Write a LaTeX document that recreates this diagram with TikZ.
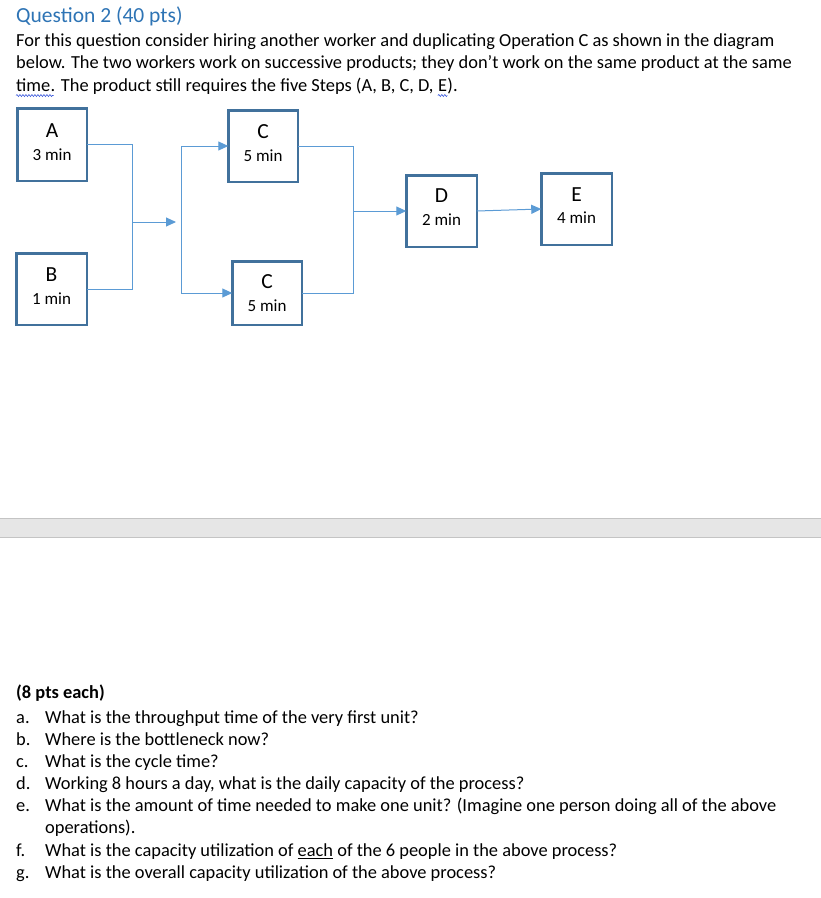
\documentclass[tikz,border=0pt]{standalone}
\usepackage{fontspec}
\setmainfont{Carlito}
\usetikzlibrary{arrows.meta,decorations.pathmorphing}
\definecolor{boxblue}{RGB}{65,113,156}
\definecolor{lineblue}{RGB}{91,155,213}
\definecolor{titleblue}{RGB}{46,116,181}
\definecolor{barfill}{RGB}{230,230,230}
\definecolor{barline}{RGB}{196,196,196}
\definecolor{squig}{RGB}{60,90,220}
\begin{document}
\begin{tikzpicture}[x=1pt,y=-1pt,
  body/.style={anchor=base west, inner sep=0pt, font=\fontsize{18.4}{22}\selectfont},
  title/.style={anchor=base west, inner sep=0pt, text=titleblue, font=\fontsize{21.5}{24}\selectfont},
  stepbox/.style={draw=boxblue, line width=2.5pt, inner sep=0pt, outer sep=0pt},
  ltr/.style={anchor=base, inner sep=0pt, font=\fontsize{21.5}{24}\selectfont},
  mins/.style={anchor=base, inner sep=0pt, font=\fontsize{17}{20}\selectfont},
  conn/.style={draw=lineblue, line width=1pt},
  tip/.style={-{Triangle[length=10pt,width=9pt]}},
  wavy/.style={draw=squig, line width=0.6pt, decorate, decoration={snake, amplitude=1pt, segment length=3pt}}
]
\useasboundingbox (0,0) rectangle (821,898);
\fill[white] (0,0) rectangle (821,898);

% heading and text
\node[title] (ttl) at (16,22) {Question 2 (40 pts)};
\node[body] (l1) at (16,46.5) {For this question consider hiring another worker and duplicating Operation C as shown in the diagram};
\node[body] (l2) at (16,68.5) {below. The two workers work on successive products; they don’t work on the same product at the same};
\node[body] (t1) at (16,91.5) {time};
\node[body] (t2) at (t1.base east) {. The product still requires the five Steps (A, B, C, D,\ \mbox{}};
\node[body] (t3) at (t2.base east) {E};
\node[body] (t4) at (t3.base east) {).};
\draw[wavy] ([yshift=-4pt]t1.base west) -- ([yshift=-4pt,xshift=3pt]t1.base east);
\draw[wavy] ([yshift=-4pt]t3.base west) -- ([yshift=-4pt]t3.base east);

% boxes
\node[stepbox, minimum width=69.5pt, minimum height=72.5pt] (A) at (52,144.5) {};
\node[stepbox, minimum width=70.5pt, minimum height=71.5pt] (B) at (51.5,289) {};
\node[stepbox, minimum width=69.5pt, minimum height=71.5pt] (C1) at (263,146) {};
\node[stepbox, minimum width=69.5pt, minimum height=63.5pt] (C2) at (267,293) {};
\node[stepbox, minimum width=70.5pt, minimum height=71.5pt] (D) at (441.5,211) {};
\node[stepbox, minimum width=70.5pt, minimum height=71.5pt] (E) at (576.5,209) {};

\node[ltr] (Al) at (52,137) {A};
\node[mins] (Am) at (52,160) {3 min};
\node[ltr] (Bl) at (51.5,281.5) {B};
\node[mins] (Bm) at (51.5,304) {1 min};
\node[ltr] (C1l) at (263,138) {C};
\node[mins] (C1m) at (263,161) {5 min};
\node[ltr] (C2l) at (267,288) {C};
\node[mins] (C2m) at (267,311) {5 min};
\node[ltr] (Dl) at (441.5,202.5) {D};
\node[mins] (Dm) at (441.5,225) {2 min};
\node[ltr] (El) at (576.5,201) {E};
\node[mins] (Em) at (576.5,223.5) {4 min};

% connectors
\coordinate (j1) at (132,222);
\coordinate (m1) at (176,222);
\coordinate (s1) at (181,146);
\coordinate (s2) at (181,293);
\coordinate (j2) at (353,211);

\draw[conn] (A.east) -| (j1);
\draw[conn] (B.east) -| (j1);
\draw[conn, tip] (j1) -- (m1);
\draw[conn] (s1) -- (s2);
\draw[conn, tip] (s1) -- (C1.west);
\draw[conn, tip] (s2) -- (C2.west);
\draw[conn] (C1.east) -| (j2);
\draw[conn] (C2.east) -| (j2);
\draw[conn, tip] (j2) -- (D.west);
\draw[conn, tip] (D.east) -- (E.west);

% separator bar
\fill[barfill] (0,518) rectangle (821,537);
\draw[barline, line width=1pt] (0,518) -- (821,518);
\draw[barline, line width=1pt] (0,537) -- (821,537);

% questions
\node[body, font=\fontsize{18.4}{22}\selectfont\bfseries] (q0) at (16,698) {(8 pts each)};
\node[body] (qa) at (16,723) {a.};
\node[body] (qat) at (45,723) {What is the throughput time of the very first unit?};
\node[body] (qb) at (16,745) {b.};
\node[body] (qbt) at (45,745) {Where is the bottleneck now?};
\node[body] (qc) at (16,767) {c.};
\node[body] (qct) at (45,767) {What is the cycle time?};
\node[body] (qd) at (16,789) {d.};
\node[body] (qdt) at (45,789) {Working 8 hours a day, what is the daily capacity of the process?};
\node[body] (qe) at (16,811.5) {e.};
\node[body] (qet) at (45,811.5) {What is the amount of time needed to make one unit? (Imagine one person doing all of the above};
\node[body] (qet2) at (45,833.5) {operations).};
\node[body] (qf) at (16,856.5) {f.};
\node[body] (qft) at (45,856.5) {What is the capacity utilization of \underline{each} of the 6 people in the above process?};
\node[body] (qg) at (16,878.5) {g.};
\node[body] (qgt) at (45,878.5) {What is the overall capacity utilization of the above process?};
\end{tikzpicture}
\end{document}
